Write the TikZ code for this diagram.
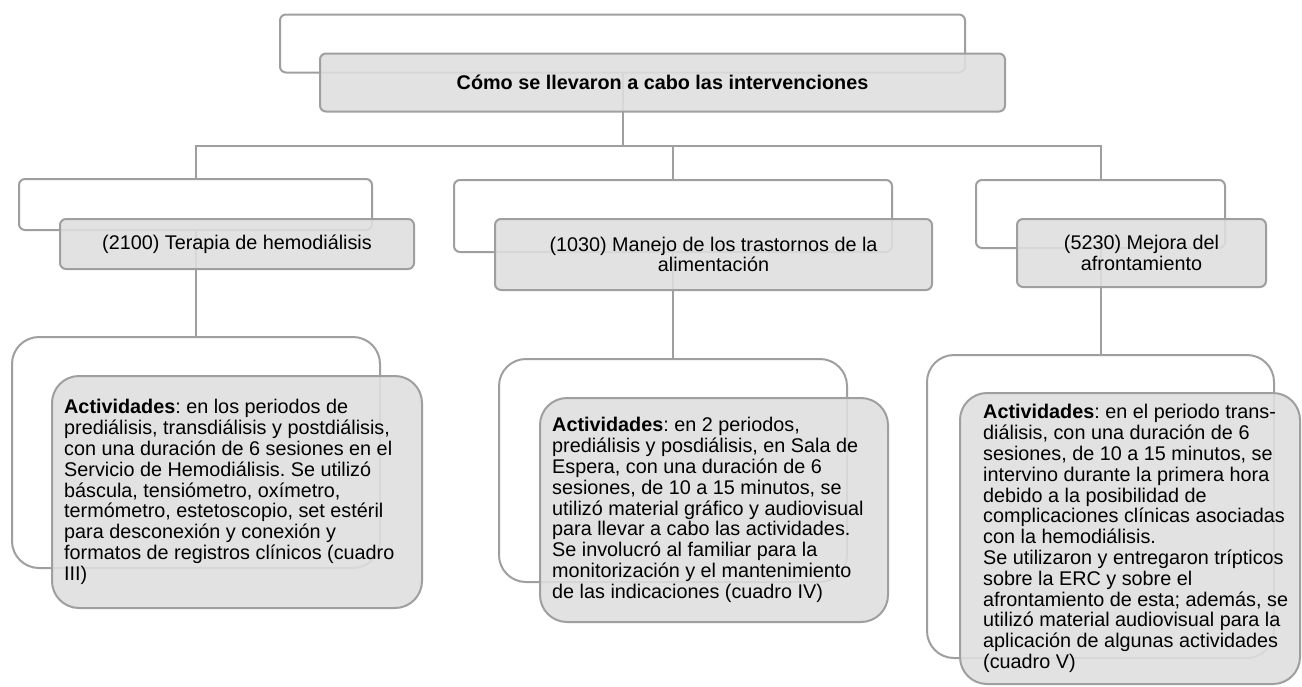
\documentclass[tikz,border=0pt]{standalone}
\usepackage{fontspec}
\setmainfont{Liberation Sans}
\usetikzlibrary{backgrounds}
\definecolor{edgegray}{HTML}{9F9F9F}
\definecolor{boxgray}{HTML}{DFDFDF}
\frenchspacing
\begin{document}
\begin{tikzpicture}[x=1pt,y=-1pt,
  backbox/.style={draw=edgegray, line width=2pt, fill=white, rounded corners=6pt, inner sep=0pt},
  frontbox/.style={draw=edgegray, line width=2pt, fill=boxgray, fill opacity=0.88, text opacity=1,
    rounded corners=6pt, inner sep=0pt, align=center, font=\fontsize{19.8}{20.7}\selectfont},
  bigback/.style={backbox, rounded corners=27pt},
  bigfront/.style={frontbox, rounded corners=27pt},
  conn/.style={draw=edgegray, line width=2pt},
  bodytext/.style={inner sep=0pt, align=left, anchor=west, font=\fontsize{19.8}{20.8}\selectfont}]
\useasboundingbox (0,0) rectangle (1302,686);
\coordinate (bus) at (0,146);
% top level
\node[backbox, minimum width=685pt, minimum height=58pt] (T0) at (622.5,43.5) {};
\node[frontbox, minimum width=685pt, minimum height=58pt,
  font={\fontsize{19.8}{20.7}\selectfont\bfseries}] (T1) at (662.5,82.5) {Cómo se llevaron a cabo las intervenciones};
% middle level
\node[backbox, minimum width=353pt, minimum height=51pt] (L0) at (195.5,204.5) {};
\node[frontbox, minimum width=354pt, minimum height=50pt] (L1) at (237,244) {(2100) Terapia de hemodiálisis};
\node[backbox, minimum width=438pt, minimum height=72pt] (M0) at (673,216) {};
\node[frontbox, minimum width=437pt, minimum height=71pt] (M1) at (713.5,254.5) {(1030) Manejo de los trastornos de la\\alimentación};
\node[backbox, minimum width=249pt, minimum height=68pt] (R0) at (1100.5,214) {};
\node[frontbox, minimum width=249pt, minimum height=68pt] (R1) at (1141.5,253) {(5230) Mejora del\\afrontamiento};
% lower level
\node[bigback, minimum width=368pt, minimum height=231pt] (LL0) at (196,452.5) {};
\node[bigfront, minimum width=370pt, minimum height=232pt] (LL1) at (237,492) {};
\node[bodytext] (LLt) at ([xshift=13pt]LL1.west) {\textbf{Actividades}: en los periodos de\\
prediálisis, transdiálisis y postdiálisis,\\
con una duración de 6 sesiones en el\\
Servicio de Hemodiálisis. Se utilizó\\
báscula, tensiómetro, oxímetro,\\
termómetro, estetoscopio, set estéril\\
para desconexión y conexión y\\
formatos de registros clínicos (cuadro\\
III)};
\node[bigback, minimum width=348pt, minimum height=223pt] (ML0) at (673,470.5) {};
\node[bigfront, minimum width=348pt, minimum height=224pt] (ML1) at (714,510) {};
\node[bodytext] (MLt) at ([xshift=13pt]ML1.west) {\textbf{Actividades}: en 2 periodos,\\
prediálisis y posdiálisis, en Sala de\\
Espera, con una duración de 6\\
sesiones, de 10 a 15 minutos, se\\
utilizó material gráfico y audiovisual\\
para llevar a cabo las actividades.\\
Se involucró al familiar para la\\
monitorización y el mantenimiento\\
de las indicaciones (cuadro IV)};
\node[bigback, minimum width=347pt, minimum height=303pt] (RL0) at (1100.5,506.5) {};
\node[bigfront, minimum width=340pt, minimum height=291pt] (RL1) at (1130,538.5) {};
\node[bodytext] (RLt) at ([xshift=24pt]RL1.west) {\textbf{Actividades}: en el periodo trans-\\
diálisis, con una duración de 6\\
sesiones, de 10 a 15 minutos, se\\
intervino durante la primera hora\\
debido a la posibilidad de\\
complicaciones clínicas asociadas\\
con la hemodiálisis.\\
Se utilizaron y entregaron trípticos\\
sobre la ERC y sobre el\\
afrontamiento de esta; además, se\\
utilizó material audiovisual para la\\
aplicación de algunas actividades\\
(cuadro V)};
% connectors behind the boxes
\begin{scope}[on background layer]
\fill[white] (0,0) rectangle (1302,686);
\draw[conn] (T0.south) -- (T0.south |- bus) -| (L0.north);
\draw[conn] (T0.south |- bus) -| (M0.north);
\draw[conn] (T0.south |- bus) -| (R0.north);
\draw[conn] (L0.south) -- (L0.south |- LL0.north);
\draw[conn] (M0.south) -- (M0.south |- ML0.north);
\draw[conn] (R0.south) -- (R0.south |- RL0.north);
\end{scope}
\end{tikzpicture}
\end{document}
